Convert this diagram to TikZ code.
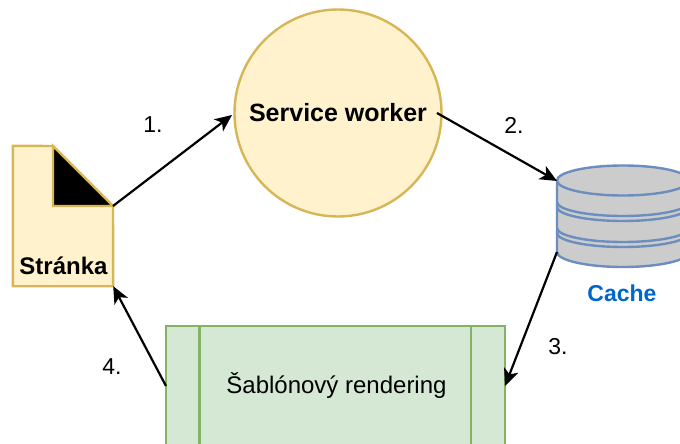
\documentclass[tikz,border=0pt]{standalone}
\usepackage{fontspec}
\setmainfont{Liberation Sans}
\usetikzlibrary{arrows.meta, positioning}
\definecolor{yellowfill}{HTML}{FFF2CC}
\definecolor{yellowline}{HTML}{D6B656}
\definecolor{greenfill}{HTML}{D5E8D4}
\definecolor{greenline}{HTML}{82B366}
\definecolor{cachefill}{HTML}{CCCCCC}
\definecolor{cacheline}{HTML}{6C8EBF}
\definecolor{cachetext}{HTML}{0066CC}

\begin{document}
\begin{tikzpicture}[
            x=1pt, y=-1pt,
            >={Stealth[length=17pt, width=15pt, inset=4.5pt]},
            flow/.style={->, line width=2.2pt},
            steplabel/.style={font=\fontsize{23}{26}\selectfont},
            worker/.style={circle, draw=yellowline, fill=yellowfill, line width=2.4pt, minimum size=207pt, inner sep=0pt, font=\bfseries\fontsize{25}{28}\selectfont},
            pagebody/.style={rectangle, minimum width=100pt, minimum height=140pt, inner sep=0pt},
            renderbox/.style={rectangle, draw=greenline, fill=greenfill, line width=2.4pt, minimum width=339pt, minimum height=160pt, inner sep=0pt},
            disk/.style={draw=cacheline, line width=2.4pt}
        ]
            \useasboundingbox (0,0) rectangle (680,444);
            \clip (0,0) rectangle (680,444);

            \node (service) [worker] at (338,113) {Service worker};
            \coordinate (servicein) at (232,115);
            \coordinate (serviceout) at (437,113);

            % stranka
            \node (page) [pagebody] at (63,216) {};
            \coordinate (fold) at (113,206);
            \coordinate (foldtop) at (53,146);
            \coordinate (foldin) at (53,206);
            \draw[draw=yellowline, fill=yellowfill, line width=2.4pt] (page.north west) -- (foldtop) -- (fold) -- (page.south east) -- (page.south west) -- cycle;
            \draw[draw=yellowline, fill=black, line width=2.4pt] (foldtop) -- (fold) -- (foldin) -- cycle;
            \node (pagetext) [font=\bfseries\fontsize{24}{28}\selectfont, above=11pt of page.south, inner sep=0pt, xshift=0.5pt] {Stránka};

            % cache
            \coordinate (cachetop) at (557,181);
            \coordinate (cachebottom) at (557,252);
            \path[fill=cachefill] (557,181) -- (557,252) arc[start angle=180, end angle=360, x radius=66, y radius=-15] -- (689,181) -- cycle;
            \draw[disk] (557,181) -- (cachebottom) arc[start angle=180, end angle=360, x radius=66, y radius=-15] -- (689,181);
            \foreach \ringy in {202,207,228,233}
                \draw[disk] (557,\ringy) arc[start angle=180, end angle=360, x radius=66, y radius=-14];
            \draw[disk, fill=cachefill] (623,180.5) ellipse[x radius=66, y radius=15];
            \node (cachetext) [font=\bfseries\fontsize{23}{26}\selectfont, text=cachetext] at (622,293) {Cache};

            % rendering
            \node (render) [renderbox] at (335.5,406) {};
            \draw[draw=greenline, line width=2.4pt] ([xshift=34.5pt]render.north west) -- ([xshift=34.5pt]render.south west);
            \draw[draw=greenline, line width=2.4pt] ([xshift=-35pt]render.north east) -- ([xshift=-35pt]render.south east);
            \node (rendertext) [font=\fontsize{24}{28}\selectfont] at (336.5,385) {Šablónový rendering};
            \coordinate (renderin) at (505,386);
            \coordinate (renderout) at (166,386);

            \draw[flow] (fold) -- (servicein);
            \draw[flow] (serviceout) -- (cachetop);
            \draw[flow] (cachebottom) -- (renderin);
            \draw[flow] (renderout) -- (page.south east);

            \node (one) [steplabel] at (153,125) {1.};
            \node (two) [steplabel] at (514,125) {2.};
            \node (three) [steplabel] at (558,347) {3.};
            \node (four) [steplabel] at (112,367) {4.};
        \end{tikzpicture}
\end{document}
